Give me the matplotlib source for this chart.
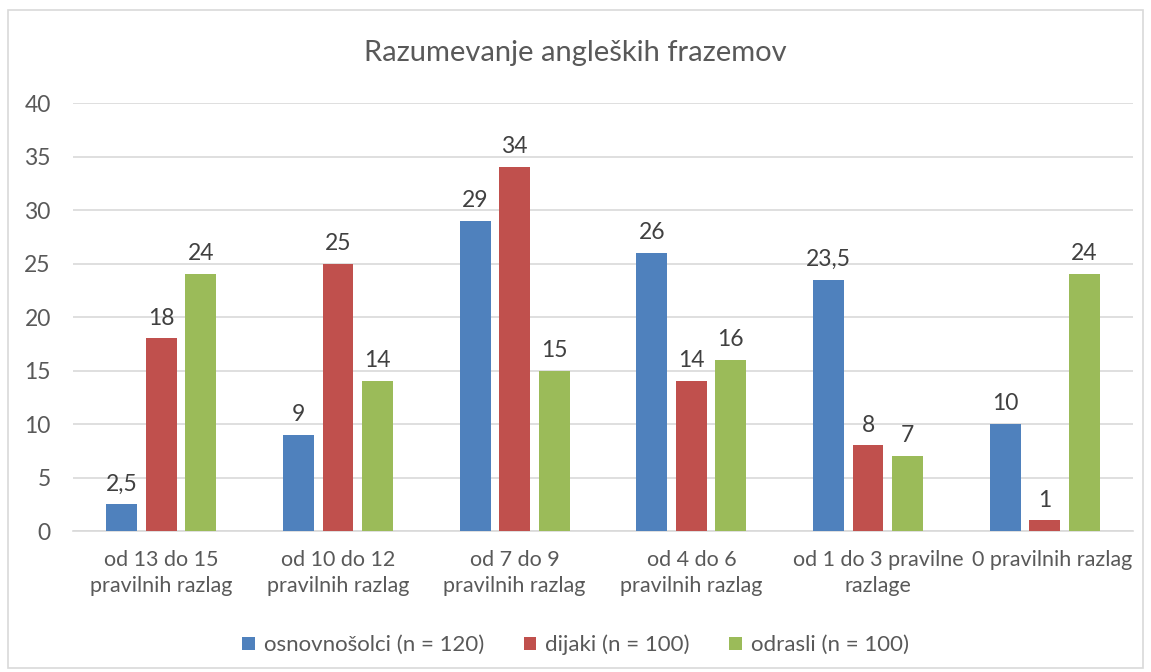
import numpy as np
import matplotlib.pyplot as plt
import matplotlib.transforms as mtransforms
from matplotlib.patches import Rectangle

plt.rcParams['font.family'] = ['Lato', 'DejaVu Sans']

categories = ["od 13 do 15\npravilnih razlag", "od 10 do 12\npravilnih razlag",
              "od 7 do 9\npravilnih razlag", "od 4 do 6\npravilnih razlag",
              "od 1 do 3 pravilne\nrazlage", "0 pravilnih razlag"]
osnovnosolci = [2.5, 9, 29, 26, 23.5, 10]
dijaki = [18, 25, 34, 14, 8, 1]
odrasli = [24, 14, 15, 16, 7, 24]
series_names = ["osnovnošolci (n = 120)", "dijaki (n = 100)", "odrasli (n = 100)"]
colors = ["#4F81BD", "#C0504D", "#9BBB59"]
text_col = "#595959"

fig = plt.figure(figsize=(11.51, 6.72), dpi=100)
fig.patches.append(Rectangle((8/1151, 4/672), 1135/1151, 658/672, transform=fig.transFigure,
                             fill=False, edgecolor="#D9D9D9", lw=1.2))
ax = fig.add_axes([0.0634, 0.2098, 0.9210, 0.6369])

x = np.arange(len(categories))
w = 0.175
step = 0.2235
for i, (vals, name, c) in enumerate(zip([osnovnosolci, dijaki, odrasli], series_names, colors)):
    bars = ax.bar(x + (i - 1) * step, vals, w, color=c, label=name, zorder=3)
    for b, v in zip(bars, vals):
        lbl = f"{v:g}".replace(".", ",")
        ax.annotate(lbl, (b.get_x() + b.get_width() / 2, v), xytext=(0, 7),
                    textcoords="offset points", ha="center", va="bottom",
                    fontsize=16.5, color="#404040")

ax.set_xlim(-0.5, len(categories) - 0.5)
ax.set_ylim(0, 40)
ax.set_yticks(range(0, 41, 5))
ax.yaxis.grid(True, color="#D9D9D9", lw=1.2, zorder=0)
ax.set_xticks(x)
ax.set_xticklabels(categories, fontsize=15.5, color=text_col, linespacing=1.35)
ax.tick_params(axis='y', labelsize=16.5, labelcolor=text_col, length=0, pad=16)
ax.tick_params(axis='x', length=0, pad=14)
for s in ["top", "right", "left"]:
    ax.spines[s].set_visible(False)
ax.spines["bottom"].set_color("#D9D9D9")
ax.spines["bottom"].set_linewidth(1.2)

# last two labels sit a bit to the right in the original
for t, dx in zip(ax.get_xticklabels()[4:], [10, 7]):
    t.set_transform(t.get_transform() + mtransforms.ScaledTranslation(dx/100, 0, fig.dpi_scale_trans))

fig.text(0.5, 1 - 53/672, "Razumevanje angleških frazemov", ha="center", va="center",
         fontsize=21, color=text_col)
fig.legend(loc="center", bbox_to_anchor=(0.5, 1 - 645/672), ncol=3, frameon=False,
           fontsize=16, labelcolor=text_col, handlelength=0.55, handleheight=0.55,
           handletextpad=0.4, columnspacing=1.8)

fig.savefig("out.png", dpi=100)
